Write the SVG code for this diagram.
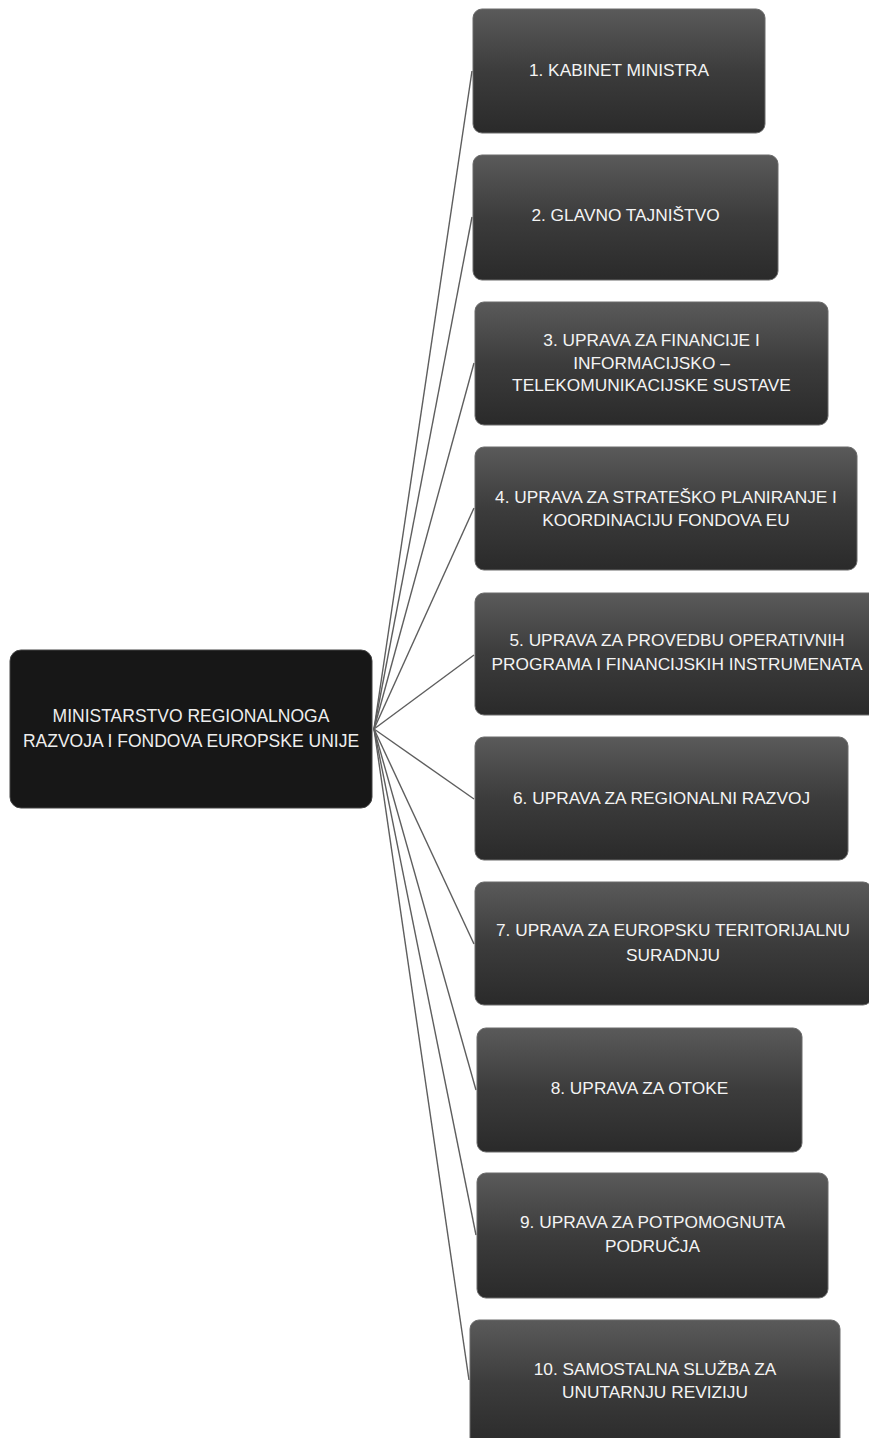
<svg xmlns="http://www.w3.org/2000/svg" width="869" height="1438" viewBox="0 0 869 1438">
<defs>
<linearGradient id="g" x1="0" y1="0" x2="0" y2="1">
<stop offset="0" stop-color="#5a5a5a"/>
<stop offset="0.5" stop-color="#3c3c3c"/>
<stop offset="1" stop-color="#2a2a2a"/>
</linearGradient>
<style>
.b{fill:url(#g);stroke:#6a6a6a;stroke-width:1}
.m{fill:#171717;stroke:#444;stroke-width:1}
.t{font-family:"Liberation Sans",Arial,sans-serif;font-size:17.3px;fill:#f4f4f4;text-anchor:middle}
.tm{font-family:"Liberation Sans",Arial,sans-serif;font-size:17.5px;fill:#eeeeee;text-anchor:middle}
.c{stroke:#5e5e5e;stroke-width:1.4;fill:none}
</style>
</defs>
<rect width="869" height="1438" fill="#ffffff"/>
<g id="connectors">
<line class="c" x1="374" y1="729" x2="472" y2="71"/>
<line class="c" x1="374" y1="729" x2="472" y2="217"/>
<line class="c" x1="374" y1="729" x2="474" y2="363"/>
<line class="c" x1="374" y1="729" x2="474" y2="508"/>
<line class="c" x1="374" y1="729" x2="474" y2="655"/>
<line class="c" x1="374" y1="729" x2="474" y2="799"/>
<line class="c" x1="374" y1="729" x2="474" y2="944"/>
<line class="c" x1="374" y1="729" x2="476" y2="1090"/>
<line class="c" x1="374" y1="729" x2="476" y2="1235"/>
<line class="c" x1="374" y1="729" x2="469" y2="1380"/>
</g>
<g id="ministry">
<rect class="m" x="10" y="650" width="362" height="158" rx="11"/>
<text class="tm" x="191" y="722">MINISTARSTVO REGIONALNOGA</text>
<text class="tm" x="191" y="747">RAZVOJA I FONDOVA EUROPSKE UNIJE</text>
</g>
<g id="n1">
<rect class="b" x="473" y="9" width="292" height="124" rx="9"/>
<text class="t" x="619" y="76">1. KABINET MINISTRA</text>
</g>
<g id="n2">
<rect class="b" x="473" y="155" width="305" height="125" rx="9"/>
<text class="t" x="625.5" y="221">2. GLAVNO TAJNIŠTVO</text>
</g>
<g id="n3">
<rect class="b" x="475" y="302" width="353" height="123" rx="9"/>
<text class="t" x="651.5" y="346">3. UPRAVA ZA FINANCIJE I</text>
<text class="t" x="651.5" y="368.5">INFORMACIJSKO –</text>
<text class="t" x="651.5" y="391">TELEKOMUNIKACIJSKE SUSTAVE</text>
</g>
<g id="n4">
<rect class="b" x="475" y="447" width="382" height="123" rx="9"/>
<text class="t" x="666" y="503">4. UPRAVA ZA STRATEŠKO PLANIRANJE I</text>
<text class="t" x="666" y="525.5">KOORDINACIJU FONDOVA EU</text>
</g>
<g id="n5">
<rect class="b" x="475" y="593" width="404" height="122" rx="9"/>
<text class="t" x="677" y="646">5. UPRAVA ZA PROVEDBU OPERATIVNIH</text>
<text class="t" x="677" y="670">PROGRAMA I FINANCIJSKIH INSTRUMENATA</text>
</g>
<g id="n6">
<rect class="b" x="475" y="737" width="373" height="123" rx="9"/>
<text class="t" x="661.5" y="804">6. UPRAVA ZA REGIONALNI RAZVOJ</text>
</g>
<g id="n7">
<rect class="b" x="475" y="882" width="397" height="123" rx="9"/>
<text class="t" x="673" y="936">7. UPRAVA ZA EUROPSKU TERITORIJALNU</text>
<text class="t" x="673" y="961">SURADNJU</text>
</g>
<g id="n8">
<rect class="b" x="477" y="1028" width="325" height="124" rx="9"/>
<text class="t" x="639.5" y="1094">8. UPRAVA ZA OTOKE</text>
</g>
<g id="n9">
<rect class="b" x="477" y="1173" width="351" height="125" rx="9"/>
<text class="t" x="652.5" y="1228">9. UPRAVA ZA POTPOMOGNUTA</text>
<text class="t" x="652.5" y="1252">PODRUČJA</text>
</g>
<g id="n10">
<rect class="b" x="470" y="1320" width="370" height="128" rx="9"/>
<text class="t" x="655" y="1375">10. SAMOSTALNA SLUŽBA ZA</text>
<text class="t" x="655" y="1398">UNUTARNJU REVIZIJU</text>
</g>
</svg>
